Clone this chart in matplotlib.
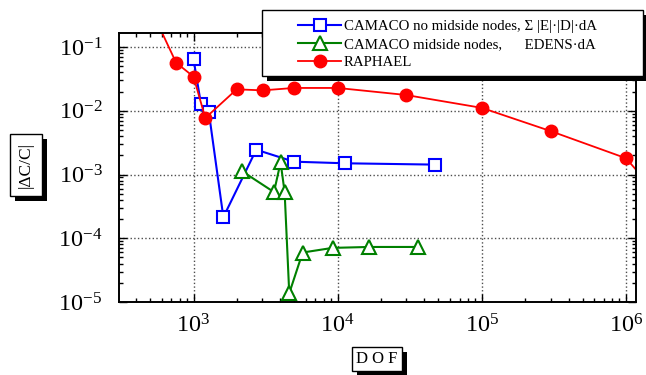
import math
import matplotlib
matplotlib.use("Agg")
import matplotlib.pyplot as plt
import matplotlib.ticker as ticker
import matplotlib.patheffects as pe
from matplotlib.patches import Rectangle

# data
cam_dof = [1000, 1127, 1275, 1610, 2722, 4966, 11200, 47200]
cam_err = [0.064, 0.0126, 0.0097, 2.14e-4, 0.00245, 0.00159, 0.00150, 0.00143]

mid_dof = [2178, 3613, 4017, 4284, 4613, 5713, 9220, 16450, 35900]
mid_err = [0.00112, 5.3e-4, 0.00155, 5.3e-4, 1.37e-5, 5.97e-5, 7.06e-5, 7.3e-5, 7.3e-5]

rap_dof = [500, 757, 1000, 1207, 1992, 3020, 4966, 10000, 29700, 100000, 300000, 1000000, 2000000]
rap_err = [0.42, 0.0568, 0.0343, 0.0077, 0.0217, 0.0209, 0.0228, 0.0228, 0.0177, 0.0111, 0.0048, 0.0018, 3e-4]

labels = ["CAMACO no midside nodes, \u03a3 |E|\u00b7|D|\u00b7dA",
          "CAMACO midside nodes,      EDENS\u00b7dA",
          "RAPHAEL"]

plt.rcParams['font.family'] = ['Liberation Serif', 'DejaVu Serif']
plt.rcParams['mathtext.fontset'] = 'custom'
plt.rcParams['mathtext.rm'] = 'Liberation Serif'

fig = plt.figure(figsize=(6.46, 3.75), dpi=100)
ax = fig.add_axes([0.1842, 0.1947, 0.8003, 0.7173])

l1, = ax.plot(cam_dof, cam_err, color="blue", lw=1.5, marker="s", ms=8,
              mfc="white", mec="blue", mew=1.5)
l2, = ax.plot(mid_dof, mid_err, color="green", lw=1.5, marker="^", ms=10,
              mfc="white", mec="green", mew=1.5)
l3, = ax.plot(rap_dof, rap_err, color="red", lw=1.3, marker="o", ms=9,
              mfc="red", mec="red")

ax.set_xscale("log")
ax.set_yscale("log")
ax.set_xlim(304, 1.173e6)
ax.set_ylim(1e-5, 0.166)

def fmt(v, pos):
    e = int(round(math.log10(v)))
    return r"$\mathregular{10^{%d}}$" % e

ax.xaxis.set_major_locator(ticker.LogLocator(base=10, numticks=10))
ax.yaxis.set_major_locator(ticker.LogLocator(base=10, numticks=10))
ax.xaxis.set_major_formatter(ticker.FuncFormatter(fmt))
ax.yaxis.set_major_formatter(ticker.FuncFormatter(fmt))
ax.xaxis.set_minor_locator(ticker.LogLocator(base=10, subs=range(2, 10), numticks=20))
ax.yaxis.set_minor_locator(ticker.LogLocator(base=10, subs=range(2, 10), numticks=20))
ax.xaxis.set_minor_formatter(ticker.NullFormatter())
ax.yaxis.set_minor_formatter(ticker.NullFormatter())

ax.tick_params(which="both", direction="in", top=True, right=True, width=1)
ax.tick_params(which="major", length=6, labelsize=17.5)
ax.tick_params(axis="x", which="major", pad=9)
ax.tick_params(axis="y", which="major", pad=12)
ax.tick_params(which="minor", length=3)
for s in ax.spines.values():
    s.set_linewidth(1.4)
ax.grid(which="major", linestyle=":", color="0.3", linewidth=1)

# legend frame drawn by hand so the entries can sit centred inside it
shadow = [pe.SimplePatchShadow(offset=(3.6, -3.6), shadow_rgbFace="black", alpha=1),
          pe.Normal()]
frame = Rectangle((262 / 646, 1 - 76 / 375), 381 / 646, 66 / 375,
                  transform=fig.transFigure, fc="white", ec="black", lw=1,
                  zorder=5)
frame.set_path_effects(shadow)
fig.patches.append(frame)

leg = fig.legend([l1, l2, l3], labels, loc="upper left",
                 bbox_to_anchor=(298 / 646, 1 - 20 / 375),
                 borderaxespad=0, borderpad=0, fontsize=10.7, frameon=False,
                 handlelength=2.9, labelspacing=0.3, handletextpad=0.2)
leg.set_zorder(6)

# boxed axis labels with a black drop shadow
def boxed(x, y, text, rot, size, pad):
    t = fig.text(x, y, text, rotation=rot, ha="center", va="center", fontsize=size,
                 bbox=dict(boxstyle="square,pad=%g" % pad, fc="white", ec="black", lw=1))
    t.get_bbox_patch().set_path_effects(shadow)
    return t

boxed(26 / 646, 1 - 165 / 375, "|\u0394C/C|", 90, 12.5, 0.45)
boxed(377 / 646, 1 - 359 / 375, "D O F", 0, 12, 0.25)

fig.savefig("out.png", dpi=100)
